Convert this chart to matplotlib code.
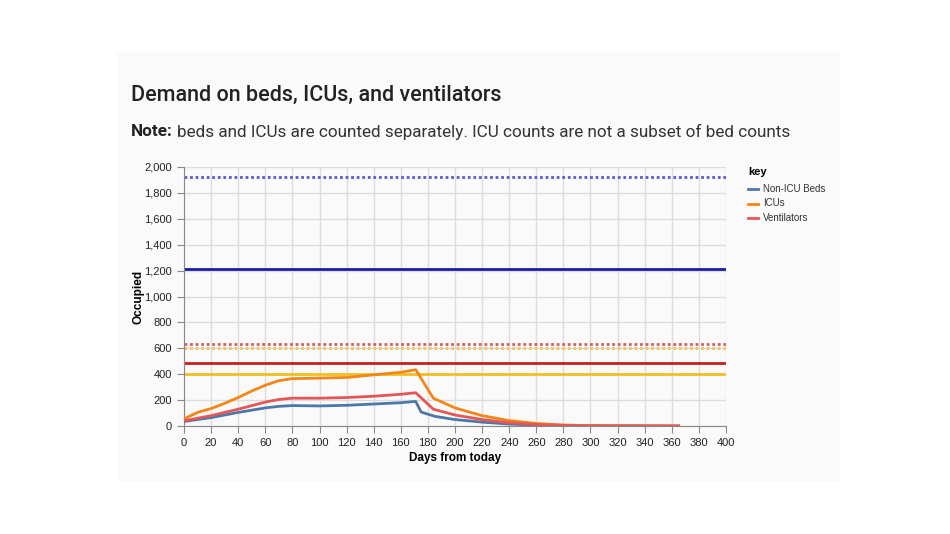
import matplotlib.pyplot as plt
import matplotlib.patches as mpatches

# curve knots (day, occupied)
days_icu = [0, 10, 20, 30, 40, 50, 60, 70, 80, 100, 120, 140, 160, 171, 184, 200, 220, 240, 260, 280, 300, 330, 365]
icu = [55, 105, 135, 175, 220, 270, 315, 350, 366, 370, 375, 395, 415, 435, 215, 140, 80, 42, 20, 8, 3, 1, 0]

days_vent = [0, 20, 40, 60, 70, 80, 100, 120, 140, 160, 171, 184, 200, 220, 240, 260, 280, 300, 330, 365]
vent = [40, 80, 130, 185, 205, 215, 215, 220, 230, 245, 257, 130, 85, 50, 25, 12, 5, 2, 1, 0]

days_beds = [0, 20, 40, 60, 70, 80, 100, 120, 140, 160, 171, 175, 185, 200, 220, 240, 260, 280, 300, 365]
beds = [35, 65, 105, 140, 152, 158, 155, 160, 170, 180, 190, 108, 75, 50, 30, 15, 7, 3, 1, 0]

# capacity lines
cap_levels = [1920, 1210, 630, 600, 490, 400]
cap_colors = ['#5a5ac8', '#1c1ca8', '#d06060', '#f5c060', '#c42020', '#f0c020']
cap_styles = [(0, (1, 1)), '-', (0, (1, 1)), (0, (1, 1)), '-', '-']

series_names = ['Non-ICU Beds', 'ICUs', 'Ventilators']
series_colors = ['#4c78a8', '#f58518', '#e45756']

fig = plt.figure(figsize=(9.5, 5.34), dpi=100)
# light panel behind everything
fig.patches.append(mpatches.Rectangle((0.123, 0.099), 0.761, 0.803, transform=fig.transFigure,
                                      facecolor='#fafafa', edgecolor='none', zorder=-10))

ax = fig.add_axes([0.1937, 0.2022, 0.5705, 0.4851])
ax.set_facecolor('none')

for lvl, c, ls in zip(cap_levels, cap_colors, cap_styles):
    ax.axhline(lvl, color=c, linestyle=ls, linewidth=2, zorder=2)

ax.plot(days_beds, beds, color=series_colors[0], linewidth=2, zorder=3)
ax.plot(days_icu, icu, color=series_colors[1], linewidth=2, zorder=3)
ax.plot(days_vent, vent, color=series_colors[2], linewidth=2, zorder=3)

ax.set_xlim(0, 400)
ax.set_ylim(0, 2000)
ax.set_xticks(range(0, 401, 20))
ax.set_yticks(range(0, 2001, 200))
ax.set_yticklabels([f'{v:,}' for v in range(0, 2001, 200)])
ax.grid(True, color='#dddddd', linewidth=1)
ax.set_axisbelow(True)
for s in ['top', 'right']:
    ax.spines[s].set_visible(False)
for s in ['left', 'bottom']:
    ax.spines[s].set_color('#888888')
ax.tick_params(colors='#888888', labelcolor='#222222', labelsize=8, length=5)
for lab in ax.get_xticklabels() + ax.get_yticklabels():
    lab.set_family('Liberation Sans')

ax.set_xlabel('Days from today', fontsize=8.5, fontweight='bold', family='Liberation Sans', labelpad=3)
ax.set_ylabel('Occupied', fontsize=8.5, fontweight='bold', family='Liberation Sans', labelpad=0)

# legend
fig.text(748 / 950, 1 - 172 / 534, 'key', fontsize=8, fontweight='bold', family='Liberation Sans', va='center')
for i, (name, c) in enumerate(zip(series_names, series_colors)):
    yy = 1 - (189 + i * 14.5) / 534
    fig.lines.append(plt.Line2D([748 / 950, 758 / 950], [yy, yy], color=c, linewidth=2, transform=fig.transFigure))
    fig.text(763 / 950, yy, name, fontsize=7, family='Liberation Sans', va='center', color='#333333')

fig.text(131 / 950, 1 - 95 / 534, 'Demand on beds, ICUs, and ventilators', fontsize=15.5,
         fontweight='medium', family='Roboto', va='center', color='#222222')
t = fig.text(131 / 950, 1 - 132 / 534, 'Note:', fontsize=12.3, fontweight='bold', family='Roboto',
             va='center', color='#222222')
fig.canvas.draw()
bb = t.get_window_extent()
fig.text((bb.x1 + 4) / 950, 1 - 132 / 534,
         'beds and ICUs are counted separately. ICU counts are not a subset of bed counts',
         fontsize=12.3, family='Roboto', va='center', color='#333333')

fig.savefig('out.png', dpi=100)
